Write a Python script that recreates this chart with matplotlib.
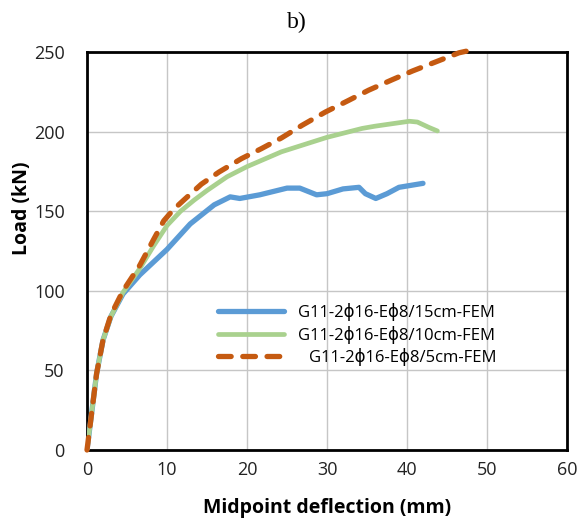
import matplotlib
matplotlib.use("Agg")
import matplotlib.pyplot as plt

plt.rcParams['font.family'] = ['Open Sans', 'DejaVu Sans']

labels = ["G11-2ϕ16-Eϕ8/15cm-FEM", "G11-2ϕ16-Eϕ8/10cm-FEM", "G11-2ϕ16-Eϕ8/5cm-FEM"]

x_15 = [0, 0.55, 1.2, 2.0, 3.0, 4.5, 6.6, 10.0, 12.9, 15.9, 17.9, 19.1, 21.6, 25.0, 26.6,
        28.7, 30.0, 32.0, 34.0, 34.8, 36.1, 37.5, 39.0, 42.0]
y_15 = [0, 22, 48, 69, 84, 98, 110, 126, 142, 154, 159, 158, 160.3, 164.5, 164.5,
        160.3, 161, 164, 165, 161, 158, 161, 165, 167.5]

x_10 = [0, 0.55, 1.2, 2.0, 3.0, 4.5, 6.6, 8.3, 10.0, 11.7, 13.4, 15.0, 17.5, 20.0, 24.3,
        30.0, 34.4, 36.0, 40.3, 41.3, 42.8, 43.8]
y_10 = [0, 22, 48, 69, 84, 99, 114, 128, 141, 150, 157, 163, 171.6, 178, 187.3,
        196.4, 202, 203.4, 206.5, 206, 202.5, 200.4]

x_5 = [0, 0.55, 1.2, 2.0, 3.0, 4.5, 6.6, 8.3, 9.6, 10.8, 12.1, 14.3, 16.5, 19.3, 21.8, 24.3,
       26.9, 29.8, 32.7, 35.2, 38.2, 40.7, 43.6, 46.5, 47.4]
y_5 = [0, 22, 48, 69, 85, 100, 116, 132, 144, 151, 157, 167, 174.6, 183, 189.3, 196,
       204, 212.3, 219.6, 226, 232.7, 238.1, 243.8, 249.5, 250.5]

xticks = [0, 10, 20, 30, 40, 50, 60]
yticks = [0, 50, 100, 150, 200, 250]

fig = plt.figure(figsize=(5.81, 5.20), dpi=100)
ax = fig.add_axes([87/581, 1-450/520, 480/581, 398/520])

ax.plot(x_15, y_15, color='#5B9BD5', lw=3.8, solid_capstyle='round', solid_joinstyle='round',
        label=labels[0], zorder=3)
ax.plot(x_10, y_10, color='#A9D18E', lw=3.4, solid_capstyle='round', solid_joinstyle='round',
        label=labels[1], zorder=3)
ax.plot(x_5, y_5, color='#C55A11', lw=3.8, dashes=(2.4, 2.2), dash_capstyle='round',
        label=labels[2], zorder=4, clip_on=False)

ax.set_xlim(0, 60)
ax.set_ylim(0, 250)
ax.set_xticks(xticks)
ax.set_yticks(yticks)
ax.grid(True, color='#c6c6c6', lw=1.0)
ax.set_axisbelow(True)
ax.tick_params(length=0, labelsize=13, colors='#222222')
ax.tick_params(axis='x', pad=8)
ax.tick_params(axis='y', pad=16)
for s in ax.spines.values():
    s.set_linewidth(2.0)
    s.set_color('black')

ax.set_xlabel('Midpoint deflection (mm)', fontsize=14, fontweight='bold')
ax.xaxis.label.set_verticalalignment('center')
ax.xaxis.set_label_coords(0.5, (450-508)/398)
ax.set_ylabel('Load (kN)', fontsize=14, fontweight='bold')
ax.yaxis.label.set_verticalalignment('center')
ax.yaxis.label.set_horizontalalignment('center')
ax.yaxis.set_label_coords((22-87)/480, (450-208)/398)

leg = ax.legend(loc='center left', bbox_to_anchor=(0.272, 0.29), frameon=False, fontsize=12,
                handlelength=4.0, handletextpad=0.8, labelspacing=0.27, borderpad=0,
                borderaxespad=0)
# third entry's text sits slightly further right in the reference
leg.get_texts()[2].set_x(11)

fig.text(297/581, 1-22/520, 'b)', family='Liberation Serif', fontsize=17, ha='center', va='center')

fig.savefig('out.png', dpi=100)
